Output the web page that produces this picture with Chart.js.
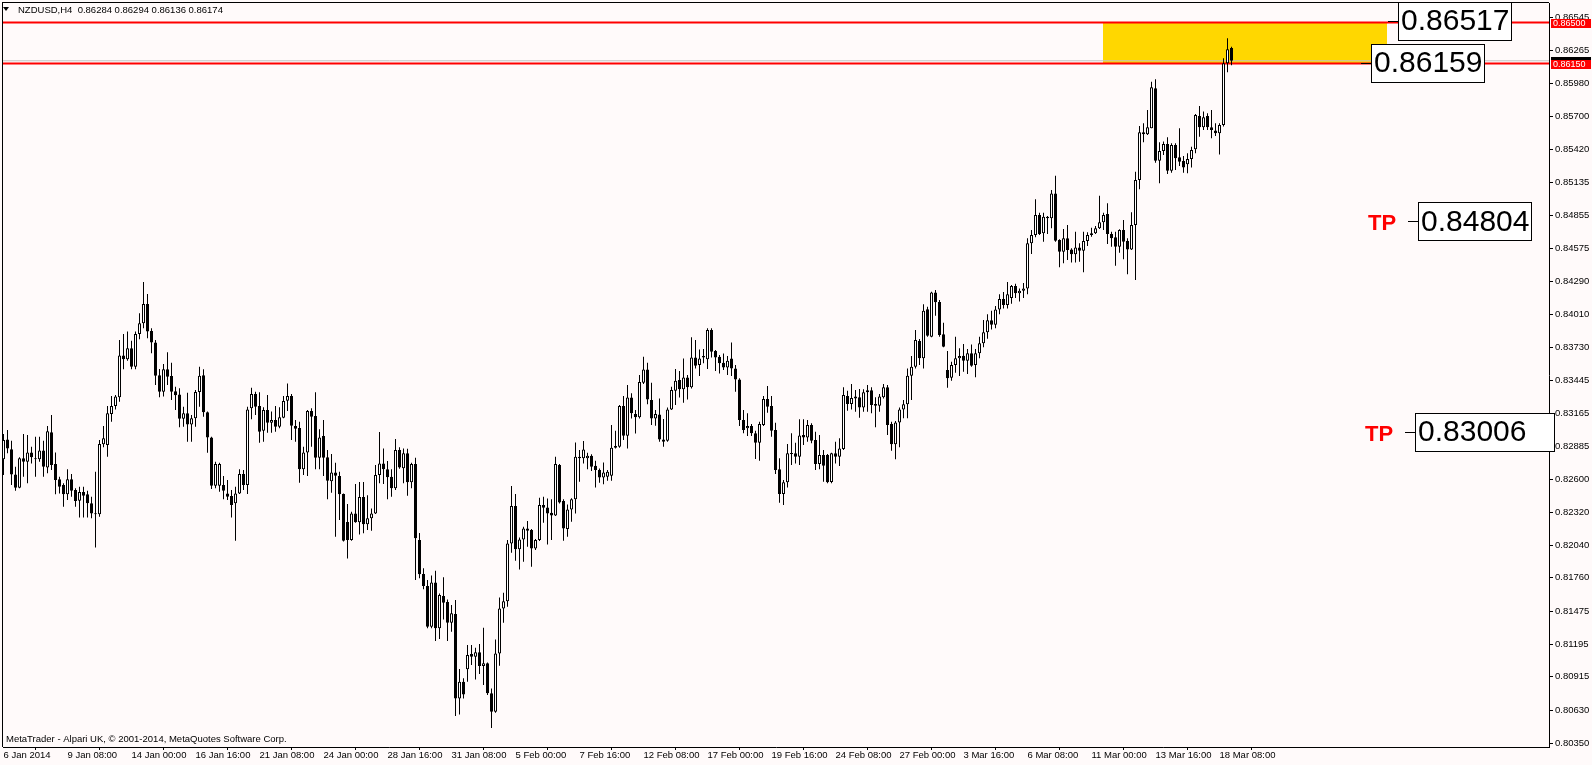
<!DOCTYPE html>
<html><head><meta charset="utf-8">
<script src="https://cdn.jsdelivr.net/npm/chart.js@4.4.1/dist/chart.umd.min.js"></script>
<style>html,body{margin:0;padding:0;background:#FFFAFA;overflow:hidden}canvas{display:block}</style>
</head><body>
<canvas id="c" width="1592" height="765"></canvas>
<script>
const chartTitle = "NZDUSD,H4  0.86284 0.86294 0.86136 0.86174";
const copyright = "MetaTrader - Alpari UK, \u00A9 2001-2014, MetaQuotes Software Corp.";

const open = [0.82772,0.82942,0.82857,0.82643,0.82530,0.82780,0.82752,0.82831,0.82780,0.82772,0.82848,0.82703,0.83002,0.82732,0.82601,0.82552,0.82473,0.82601,0.82510,0.82419,
0.82493,0.82473,0.82396,0.82310,0.82302,0.82900,0.82894,0.83159,0.83227,0.83301,0.83659,0.83625,0.83719,0.83563,0.83842,0.83933,0.84098,0.83867,0.83770,0.83489,
0.83349,0.83540,0.83483,0.83352,0.83326,0.83119,0.83164,0.83070,0.83122,0.83346,0.83489,0.83173,0.82959,0.82547,0.82547,0.82552,0.82481,0.82458,0.82396,0.82481,
0.82646,0.82552,0.83207,0.83329,0.83227,0.83016,0.83193,0.83085,0.83107,0.83050,0.83127,0.83272,0.83312,0.83056,0.83039,0.82686,0.82831,0.83184,0.83141,0.82786,
0.82971,0.82789,0.82584,0.82660,0.82629,0.82476,0.82237,0.82083,0.82310,0.82234,0.82450,0.82217,0.82268,0.82310,0.82638,0.82737,0.82686,0.82624,0.82524,0.82851,
0.82695,0.82823,0.82575,0.82732,0.82083,0.81793,0.81690,0.81343,0.81721,0.81329,0.81605,0.81553,0.81377,0.81451,0.80731,0.80873,0.80979,0.81109,0.81087,0.81124,
0.81007,0.81030,0.80774,0.80617,0.81115,0.81499,0.81561,0.82054,0.82373,0.82003,0.82088,0.82182,0.82168,0.82011,0.82082,0.82381,0.82361,0.82316,0.82293,0.82723,
0.82415,0.82176,0.82344,0.82430,0.82794,0.82780,0.82780,0.82802,0.82717,0.82680,0.82617,0.82623,0.82632,0.82885,0.82879,0.83226,0.82973,0.83300,0.83158,0.83130,
0.83426,0.83539,0.83278,0.83121,0.83155,0.82942,0.82930,0.83198,0.83357,0.83448,0.83369,0.83471,0.83386,0.83642,0.83576,0.83642,0.83625,0.83875,0.83696,0.83648,
0.83596,0.83556,0.83633,0.83548,0.83454,0.83107,0.83036,0.83056,0.82994,0.82914,0.83065,0.83287,0.83227,0.83022,0.82686,0.82475,0.82575,0.82826,0.82823,0.82794,
0.82979,0.82959,0.83065,0.82937,0.82732,0.82809,0.82809,0.82578,0.82823,0.82794,0.82860,0.83312,0.83244,0.83307,0.83301,0.83215,0.83344,0.83361,0.83244,0.83230,
0.83301,0.83386,0.83073,0.82900,0.83087,0.83198,0.83241,0.83486,0.83563,0.83782,0.83634,0.84052,0.83819,0.84195,0.84115,0.83839,0.83534,0.83469,0.83577,0.83634,
0.83657,0.83614,0.83677,0.83577,0.83677,0.83762,0.83856,0.83960,0.83920,0.84050,0.84140,0.84090,0.84150,0.84251,0.84190,0.84210,0.84230,0.84616,0.84687,0.84858,
0.84701,0.84843,0.84829,0.85042,0.84644,0.84544,0.84658,0.84564,0.84522,0.84581,0.84553,0.84636,0.84687,0.84701,0.84744,0.84795,0.84866,0.84695,0.84667,0.84587,
0.84729,0.84636,0.84564,0.84772,0.85156,0.85563,0.85546,0.85597,0.85939,0.85321,0.85404,0.85464,0.85236,0.85455,0.85350,0.85319,0.85290,0.85336,0.85418,0.85703,
0.85606,0.85703,0.85606,0.85578,0.85555,0.85626,0.86152,0.86284];

const high = [0.82988,0.83022,0.82931,0.82709,0.82789,0.82988,0.82979,0.82880,0.82965,0.82965,0.82931,0.83056,0.83150,0.82831,0.82624,0.82567,0.82686,0.82646,0.82524,0.82538,
0.82538,0.82504,0.82453,0.82666,0.82937,0.83056,0.83227,0.83312,0.83321,0.83790,0.83842,0.83862,0.83785,0.83862,0.84018,0.84286,0.84183,0.83890,0.83790,0.83543,
0.83585,0.83685,0.83597,0.83392,0.83378,0.83221,0.83341,0.83150,0.83363,0.83563,0.83540,0.83180,0.82965,0.82752,0.82743,0.82629,0.82595,0.82510,0.82538,0.82686,
0.82680,0.83221,0.83383,0.83349,0.83344,0.83216,0.83321,0.83179,0.83227,0.83216,0.83312,0.83420,0.83329,0.83107,0.83093,0.82880,0.83193,0.83207,0.83344,0.83028,
0.83107,0.82851,0.82817,0.82743,0.82666,0.82481,0.82390,0.82325,0.82561,0.82578,0.82578,0.82464,0.82353,0.82723,0.83005,0.82865,0.82757,0.82686,0.82945,0.82874,
0.82865,0.82863,0.82743,0.82786,0.82143,0.81841,0.81741,0.81781,0.81821,0.81627,0.81764,0.81576,0.81528,0.81571,0.80981,0.80902,0.81186,0.81186,0.81164,0.81195,
0.81334,0.81038,0.80816,0.81234,0.81593,0.81633,0.82082,0.82543,0.82475,0.82105,0.82196,0.82245,0.82176,0.82091,0.82444,0.82452,0.82438,0.82430,0.82794,0.82731,
0.82430,0.82387,0.82440,0.82916,0.82851,0.82928,0.82828,0.82814,0.82760,0.82694,0.82745,0.82680,0.83064,0.83016,0.83235,0.83312,0.83406,0.83335,0.83192,0.83491,
0.83648,0.83596,0.83426,0.83192,0.83292,0.83115,0.83215,0.83391,0.83542,0.83525,0.83633,0.83491,0.83813,0.83790,0.83710,0.83713,0.83890,0.83890,0.83704,0.83662,
0.83676,0.83653,0.83770,0.83576,0.83463,0.83193,0.83164,0.83073,0.83016,0.83093,0.83312,0.83398,0.83312,0.83085,0.82780,0.82595,0.82902,0.82994,0.82914,0.83113,
0.83113,0.83107,0.83079,0.83008,0.82979,0.82851,0.82817,0.82828,0.82922,0.82951,0.83386,0.83358,0.83415,0.83363,0.83372,0.83369,0.83406,0.83386,0.83301,0.83329,
0.83415,0.83406,0.83093,0.83099,0.83215,0.83278,0.83548,0.83654,0.83876,0.83799,0.84095,0.84075,0.84203,0.84217,0.84132,0.83938,0.83696,0.83605,0.83819,0.83719,
0.83756,0.83713,0.83753,0.83713,0.83819,0.83961,0.84010,0.84040,0.84080,0.84180,0.84200,0.84286,0.84260,0.84270,0.84230,0.84277,0.84658,0.84729,0.84991,0.84877,
0.84877,0.84849,0.85071,0.85193,0.84650,0.84738,0.84772,0.84573,0.84715,0.84616,0.84715,0.84710,0.84749,0.84764,0.85022,0.84877,0.84957,0.84715,0.84715,0.84735,
0.84815,0.84658,0.84880,0.85227,0.85617,0.85640,0.85754,0.85996,0.86016,0.85478,0.85484,0.85521,0.85469,0.85469,0.85597,0.85361,0.85384,0.85441,0.85720,0.85788,
0.85740,0.85726,0.85754,0.85640,0.85640,0.86195,0.86366,0.86294];

const low = [0.82638,0.82823,0.82552,0.82504,0.82524,0.82624,0.82567,0.82737,0.82624,0.82752,0.82624,0.82652,0.82680,0.82473,0.82481,0.82367,0.82424,0.82453,0.82367,0.82276,
0.82276,0.82276,0.82268,0.82020,0.82282,0.82874,0.82794,0.83093,0.83198,0.83264,0.83540,0.83614,0.83540,0.83540,0.83796,0.83890,0.83805,0.83677,0.83406,0.83301,
0.83307,0.83406,0.83278,0.83193,0.83045,0.83050,0.82922,0.82922,0.83050,0.83221,0.83136,0.82828,0.82518,0.82524,0.82495,0.82430,0.82424,0.82276,0.82077,0.82475,
0.82510,0.82476,0.83113,0.83150,0.82914,0.82922,0.82999,0.82999,0.83008,0.83036,0.83122,0.83184,0.82937,0.82922,0.82572,0.82638,0.82629,0.82880,0.82686,0.82686,
0.82629,0.82430,0.82487,0.82111,0.82254,0.82070,0.81926,0.82077,0.82231,0.82131,0.82140,0.82168,0.82162,0.82305,0.82567,0.82561,0.82430,0.82453,0.82510,0.82692,
0.82567,0.82461,0.82524,0.81741,0.81756,0.81662,0.81329,0.81329,0.81220,0.81238,0.81405,0.81220,0.81300,0.80580,0.80594,0.80731,0.80873,0.81016,0.80893,0.80939,
0.80845,0.80759,0.80478,0.80608,0.81009,0.81377,0.81513,0.81974,0.81906,0.81832,0.81897,0.82025,0.81855,0.81997,0.82074,0.82230,0.82045,0.82082,0.82287,0.82395,
0.82077,0.82111,0.82239,0.82310,0.82580,0.82737,0.82686,0.82671,0.82532,0.82572,0.82560,0.82589,0.82589,0.82865,0.82870,0.82936,0.82865,0.83121,0.82993,0.83121,
0.83414,0.83241,0.83064,0.83058,0.82922,0.82879,0.82922,0.83192,0.83235,0.83300,0.83255,0.83283,0.83377,0.83548,0.83483,0.83591,0.83542,0.83642,0.83525,0.83505,
0.83534,0.83491,0.83483,0.83349,0.83056,0.82994,0.82971,0.82971,0.82774,0.82760,0.83056,0.83170,0.82965,0.82646,0.82401,0.82382,0.82532,0.82723,0.82737,0.82723,
0.82894,0.82922,0.82908,0.82680,0.82686,0.82581,0.82567,0.82567,0.82737,0.82715,0.82851,0.83187,0.83198,0.83178,0.83127,0.83178,0.83178,0.83164,0.83045,0.83178,
0.83292,0.82979,0.82846,0.82772,0.82874,0.83122,0.83122,0.83278,0.83548,0.83577,0.83548,0.83819,0.83813,0.83998,0.83819,0.83728,0.83383,0.83443,0.83511,0.83483,
0.83520,0.83500,0.83563,0.83472,0.83634,0.83728,0.83800,0.83880,0.83890,0.84010,0.84060,0.84060,0.84100,0.84150,0.84120,0.84150,0.84180,0.84525,0.84667,0.84687,
0.84630,0.84695,0.84744,0.84630,0.84411,0.84445,0.84473,0.84453,0.84451,0.84459,0.84368,0.84593,0.84672,0.84695,0.84738,0.84729,0.84610,0.84587,0.84425,0.84536,
0.84479,0.84351,0.84559,0.84303,0.85077,0.85478,0.85541,0.85597,0.85304,0.85128,0.85370,0.85208,0.85219,0.85242,0.85276,0.85219,0.85213,0.85264,0.85384,0.85526,
0.85583,0.85583,0.85512,0.85532,0.85375,0.85612,0.86076,0.86136];

const close = [0.82937,0.82865,0.82643,0.82530,0.82780,0.82752,0.82831,0.82789,0.82772,0.82848,0.82709,0.83011,0.82723,0.82595,0.82538,0.82473,0.82601,0.82504,0.82416,0.82493,
0.82461,0.82396,0.82310,0.82302,0.82902,0.82951,0.83164,0.83227,0.83307,0.83659,0.83625,0.83719,0.83563,0.83842,0.83933,0.84098,0.83862,0.83768,0.83486,0.83349,
0.83540,0.83477,0.83349,0.83318,0.83119,0.83164,0.83070,0.83122,0.83346,0.83486,0.83173,0.82957,0.82547,0.82732,0.82732,0.82504,0.82453,0.82382,0.82481,0.82646,
0.82552,0.83198,0.83329,0.83221,0.83008,0.83193,0.83085,0.83107,0.83050,0.83130,0.83270,0.83312,0.83059,0.83033,0.82686,0.82831,0.83184,0.83136,0.82786,0.82959,
0.82786,0.82589,0.82660,0.82632,0.82473,0.82077,0.82083,0.82310,0.82234,0.82450,0.82217,0.82268,0.82310,0.82638,0.82737,0.82686,0.82618,0.82524,0.82851,0.82703,
0.82823,0.82575,0.82732,0.82097,0.81790,0.81690,0.81343,0.81721,0.81329,0.81613,0.81548,0.81377,0.81457,0.80731,0.80873,0.80765,0.81101,0.81087,0.81124,0.81007,
0.81030,0.80774,0.80617,0.81115,0.81499,0.81561,0.82054,0.82373,0.82003,0.82088,0.82182,0.82162,0.82011,0.82082,0.82381,0.82358,0.82310,0.82293,0.82731,0.82404,
0.82182,0.82344,0.82430,0.82794,0.82780,0.82856,0.82802,0.82708,0.82680,0.82617,0.82660,0.82666,0.82871,0.82871,0.83226,0.82973,0.83300,0.83164,0.83130,0.83431,
0.83539,0.83283,0.83121,0.83158,0.82942,0.82922,0.83198,0.83363,0.83443,0.83369,0.83471,0.83386,0.83642,0.83571,0.83633,0.83653,0.83875,0.83690,0.83642,0.83591,
0.83556,0.83613,0.83548,0.83454,0.83107,0.83022,0.83056,0.82994,0.82914,0.83073,0.83287,0.83221,0.83016,0.82680,0.82475,0.82575,0.82823,0.82817,0.82794,0.82976,
0.82959,0.83065,0.82931,0.82732,0.82809,0.82717,0.82575,0.82823,0.82794,0.82865,0.83321,0.83244,0.83295,0.83292,0.83215,0.83344,0.83361,0.83235,0.83230,0.83307,
0.83386,0.83065,0.82900,0.83087,0.83198,0.83241,0.83486,0.83563,0.83790,0.83634,0.84041,0.83827,0.84195,0.84112,0.83833,0.83733,0.83463,0.83577,0.83634,0.83654,
0.83614,0.83677,0.83571,0.83677,0.83762,0.83856,0.83960,0.83920,0.84050,0.84140,0.84090,0.84180,0.84251,0.84190,0.84210,0.84230,0.84616,0.84687,0.84858,0.84695,
0.84843,0.84829,0.85042,0.84638,0.84544,0.84658,0.84559,0.84522,0.84581,0.84553,0.84636,0.84687,0.84701,0.84744,0.84795,0.84858,0.84695,0.84658,0.84587,0.84729,
0.84630,0.84564,0.84772,0.85156,0.85563,0.85546,0.85606,0.85948,0.85321,0.85404,0.85464,0.85236,0.85455,0.85341,0.85313,0.85264,0.85336,0.85412,0.85711,0.85606,
0.85691,0.85606,0.85583,0.85555,0.85626,0.86152,0.86272,0.86174];

const timeLabels = ["6 Jan 2014","9 Jan 08:00","14 Jan 00:00","16 Jan 16:00","21 Jan 08:00","24 Jan 00:00","28 Jan 16:00","31 Jan 08:00","5 Feb 00:00","7 Feb 16:00",
"12 Feb 08:00","17 Feb 00:00","19 Feb 16:00","24 Feb 08:00","27 Feb 00:00","3 Mar 16:00","6 Mar 08:00","11 Mar 00:00","13 Mar 16:00","18 Mar 08:00"];
const timeLabelBars = [0,16,32,48,64,80,96,112,128,144,160,176,192,208,224,240,256,272,288,304];

const priceTicks = [0.86545,0.86265,0.85980,0.85700,0.85420,0.85135,0.84855,0.84575,0.84290,0.84010,0.83730,0.83445,
0.83165,0.82885,0.82600,0.82320,0.82040,0.81760,0.81475,0.81195,0.80915,0.80630,0.80350];

const levelLines = [0.86500, 0.86150];
const bidPrice = 0.86174;
const zoneTop = 0.86500, zoneBottom = 0.86159;
const zoneFromBar = 274.9, zoneToBar = 345.9;
const noteValues = [0.86517, 0.86159, 0.84804, 0.83006];
const noteIsTP = [false, false, true, true];

const Y_MIN = 0.803159, Y_MAX = 0.866673;
const X_MIN = -0.125, X_MAX = 386.375;
const FONT = "'Liberation Sans', Arial, sans-serif";
const BG = '#FFFAFA';

const wickData = open.map((o, i) => ({x: i, y: [low[i], high[i]]}));
const bodyData = open.map((o, i) => ({x: i, y: [o, close[i]]}));
const lineData = v => [{x: X_MIN, y: v}, {x: X_MAX, y: v}];

const notePos = [ {left:1398, w:113}, {left:1371, w:113}, {left:1418, w:113}, {left:1415, w:139} ];

const overlay = {
  id: 'overlay',
  beforeDraw(chart) {
    const ctx = chart.ctx;
    ctx.save();
    ctx.fillStyle = BG;
    ctx.fillRect(0, 0, chart.width, chart.height);
    ctx.restore();
  },
  beforeDatasetsDraw(chart) {
    const {ctx, scales: {x, y}, chartArea: a} = chart;
    ctx.save();
    ctx.beginPath(); ctx.rect(a.left, a.top, a.right - a.left, a.bottom - a.top); ctx.clip();
    const x1 = x.getPixelForValue(zoneFromBar), x2 = x.getPixelForValue(zoneToBar);
    const y1 = y.getPixelForValue(zoneTop), y2 = y.getPixelForValue(zoneBottom);
    ctx.fillStyle = '#FFD700';
    ctx.fillRect(Math.round(x1), Math.round(y1), Math.round(x2 - x1), Math.round(y2 - y1));
    ctx.restore();
  },
  afterDraw(chart) {
    const {ctx, scales: {y}, chartArea: a} = chart;
    ctx.save();
    ctx.fillStyle = '#000';
    ctx.fillRect(2, 2, 1, a.bottom - 2);
    ctx.fillRect(2, 2, a.right - 2, 1);
    noteValues.forEach((v, k) => {
      const py = y.getPixelForValue(v);
      const L = notePos[k].left, W = notePos[k].w, H = 38;
      const top = Math.round(py - H / 2) + 0.5;
      ctx.fillStyle = '#000';
      ctx.fillRect(L - 10, Math.round(py), 10, 1);
      ctx.fillStyle = '#FFFFFF';
      ctx.fillRect(L, top, W, H);
      ctx.strokeStyle = '#000'; ctx.lineWidth = 1;
      ctx.strokeRect(L + 0.5, top, W, H);
      ctx.fillStyle = '#000';
      ctx.font = "30px " + FONT;
      ctx.textBaseline = 'middle'; ctx.textAlign = 'left';
      ctx.fillText(v.toFixed(5), L + 3, py + 1);
      if (noteIsTP[k]) {
        ctx.fillStyle = '#FF0000';
        ctx.font = "bold 22px " + FONT;
        ctx.fillText('TP', L - 50, py + 3);
      }
    });
    ctx.font = "9px " + FONT;
    ctx.textBaseline = 'middle'; ctx.textAlign = 'left';
    const yb = Math.round(y.getPixelForValue(bidPrice));
    ctx.fillStyle = '#000';
    ctx.fillRect(1551, yb - 4, 40, 9);
    levelLines.forEach(v => {
      const py = Math.round(y.getPixelForValue(v));
      ctx.fillStyle = '#FF0000';
      ctx.fillRect(1551, py - 4, 40, 9);
      ctx.fillStyle = '#FFFFFF';
      ctx.fillText(v.toFixed(5), 1553, py + 0.5);
    });
    ctx.fillStyle = '#000';
    ctx.beginPath(); ctx.moveTo(3, 7); ctx.lineTo(9, 7); ctx.lineTo(6, 11); ctx.closePath(); ctx.fill();
    ctx.font = "9.5px " + FONT;
    ctx.fillText(chartTitle, 18, 10);
    ctx.fillText(copyright, 6, 739);
    ctx.restore();
  }
};

Chart.defaults.font.family = FONT;
new Chart(document.getElementById('c'), {
  type: 'bar',
  data: {
    datasets: [
      {type: 'line', data: lineData(levelLines[0]), borderColor: '#FF0000', borderWidth: 2, pointRadius: 0, order: 4},
      {type: 'line', data: lineData(levelLines[1]), borderColor: '#FF0000', borderWidth: 2, pointRadius: 0, order: 4},
      {type: 'line', data: lineData(bidPrice), borderColor: '#C0C0C0', borderWidth: 1, pointRadius: 0, order: 5},
      {type: 'bar', data: wickData, backgroundColor: '#000', borderWidth: 0, barThickness: 1, grouped: false, order: 2, inflateAmount: 0, minBarLength: 1},
      {type: 'bar', data: bodyData, backgroundColor: c => (close[c.dataIndex] >= open[c.dataIndex] ? '#FFFFFF' : '#000000'),
        borderColor: '#000', borderWidth: 1, borderSkipped: false, barThickness: 3, grouped: false, order: 1, inflateAmount: 0, minBarLength: 1}
    ]
  },
  options: {
    responsive: false, animation: false, events: [],
    layout: {padding: {left: 3, top: 3, right: 0, bottom: 0}},
    plugins: {legend: {display: false}, tooltip: {enabled: false}},
    scales: {
      x: {
        type: 'linear', min: X_MIN, max: X_MAX, offset: false,
        afterBuildTicks: s => { s.ticks = timeLabelBars.map(v => ({value: v})); },
        afterFit: s => { s.height = 18; s.paddingLeft = 0; s.paddingRight = 0; },
        grid: {display: true, drawOnChartArea: false, drawTicks: true, tickLength: 3, color: '#000', lineWidth: 1},
        border: {display: true, color: '#000', width: 1},
        ticks: {autoSkip: false, maxRotation: 0, minRotation: 0, align: 'start', padding: 0, color: '#000',
          font: {family: FONT, size: 9.5}, callback: (v, i) => timeLabels[i]}
      },
      y: {
        type: 'linear', position: 'right', min: Y_MIN, max: Y_MAX,
        afterBuildTicks: s => { s.ticks = priceTicks.map(v => ({value: v})); },
        afterFit: s => { s.width = 43; s.paddingTop = 0; s.paddingBottom = 0; },
        grid: {display: true, drawOnChartArea: false, drawTicks: true, tickLength: 4, color: '#000', lineWidth: 1},
        border: {display: true, color: '#000', width: 1},
        ticks: {padding: 2, color: '#000', font: {family: FONT, size: 9.5}, callback: v => Number(v).toFixed(5)}
      }
    }
  },
  plugins: [overlay]
});
</script>
</body></html>
